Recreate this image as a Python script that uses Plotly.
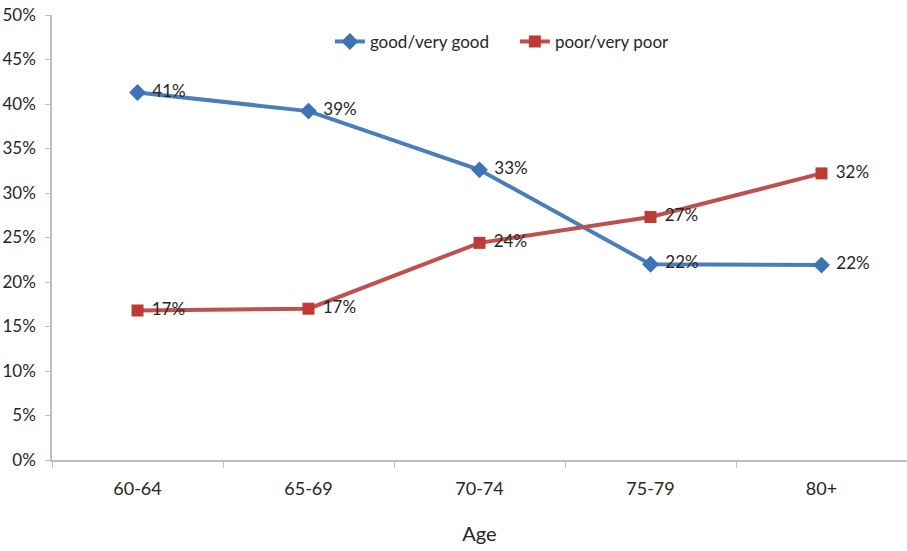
import plotly.graph_objects as go

ages = ["60-64", "65-69", "70-74", "75-79", "80+"]
good = [0.413, 0.392, 0.326, 0.220, 0.219]
poor = [0.168, 0.170, 0.244, 0.273, 0.322]

font_family = "Lato, Open Sans, sans-serif"
text_color = "#262626"

fig = go.Figure()
fig.add_trace(go.Scatter(
    x=ages, y=good, name="good/very good", mode="lines+markers+text",
    line=dict(color="#4a7ebb", width=4),
    marker=dict(symbol="diamond", size=13, color="#3f72b4"),
    texttemplate="\u2004%{y:.0%}", textposition="middle right",
    textfont=dict(size=17, color=text_color, family=font_family),
    cliponaxis=False,
))
fig.add_trace(go.Scatter(
    x=ages, y=poor, name="poor/very poor", mode="lines+markers+text",
    line=dict(color="#c0504d", width=4),
    marker=dict(symbol="square", size=12, color="#be3a36"),
    texttemplate="\u2004%{y:.0%}", textposition="middle right",
    textfont=dict(size=17, color=text_color, family=font_family),
    cliponaxis=False,
))

fig.update_layout(
    width=907, height=551,
    margin=dict(l=52, r=0, t=15, b=91),
    paper_bgcolor="white", plot_bgcolor="white",
    font=dict(family=font_family, size=17, color=text_color),
    showlegend=True,
    legend=dict(orientation="h", x=0.325, xanchor="left", y=0.98, yanchor="top",
                font=dict(size=17, color=text_color), bgcolor="rgba(0,0,0,0)",
                itemwidth=30, entrywidth=140, entrywidthmode="pixels"),
    xaxis=dict(
        range=[-0.5, 4.5], automargin=False,
        showline=True, linecolor="#bfbfbf", linewidth=1.5,
        ticks="outside", tickson="boundaries", ticklen=6, tickcolor="#bfbfbf",
        showgrid=False, zeroline=False,
        tickfont=dict(size=18), ticklabelstandoff=12,
        title=dict(text="Age", font=dict(size=20), standoff=29),
    ),
    yaxis=dict(
        range=[0, 0.5], dtick=0.05, tickformat=".0%", automargin=False,
        showline=True, linecolor="#bfbfbf", linewidth=1.5,
        ticks="outside", ticklen=5, tickcolor="#bfbfbf",
        showgrid=False, zeroline=False,
        tickfont=dict(size=17), ticklabelstandoff=6,
    ),
)

fig.write_html("out.html", config={"displayModeBar": False},
               post_script="document.body.style.margin='0';")
